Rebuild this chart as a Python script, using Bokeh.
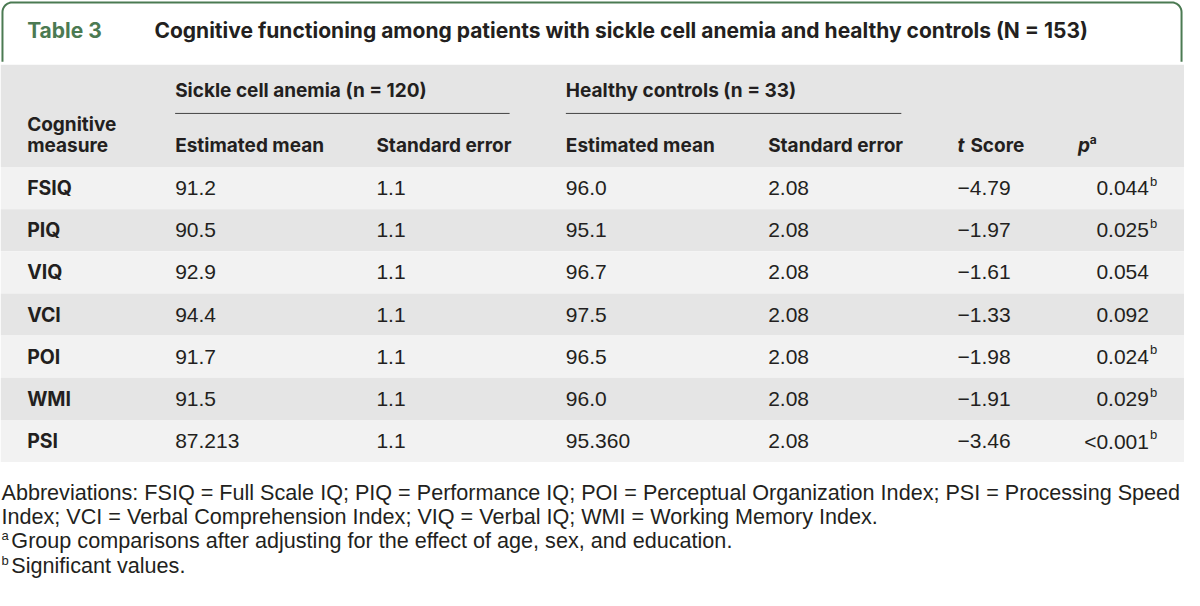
from bokeh.plotting import figure
from bokeh.models import Range1d, ColumnDataSource
from bokeh.core.properties import value
from bokeh.embed import file_html
from bokeh.resources import INLINE
import numpy as np

# ---------------- data ----------------
table_label = "Table 3"
title = "Cognitive functioning among patients with sickle cell anemia and healthy controls (N = 153)"
group_labels = ["Sickle cell anemia (n = 120)", "Healthy controls (n = 33)"]
col_headers = ["Estimated mean", "Standard error", "Estimated mean", "Standard error"]
row_header = ["Cognitive", "measure"]
measures = ["FSIQ", "PIQ", "VIQ", "VCI", "POI", "WMI", "PSI"]
sca_mean = ["91.2", "90.5", "92.9", "94.4", "91.7", "91.5", "87.213"]
sca_se = ["1.1", "1.1", "1.1", "1.1", "1.1", "1.1", "1.1"]
hc_mean = ["96.0", "95.1", "96.7", "97.5", "96.5", "96.0", "95.360"]
hc_se = ["2.08", "2.08", "2.08", "2.08", "2.08", "2.08", "2.08"]
t_score = ["\u22124.79", "\u22121.97", "\u22121.61", "\u22121.33", "\u22121.98", "\u22121.91", "\u22123.46"]
p_value = ["0.044", "0.025", "0.054", "0.092", "0.024", "0.029", "<0.001"]
p_sup = ["b", "b", "", "", "b", "b", "b"]
footnote_lines = [
    "Abbreviations: FSIQ = Full Scale IQ; PIQ = Performance IQ; POI = Perceptual Organization Index; PSI = Processing Speed",
    "Index; VCI = Verbal Comprehension Index; VIQ = Verbal IQ; WMI = Working Memory Index.",
]
footnote_marks = ["a", "b"]
footnote_notes = [
    "Group comparisons after adjusting for the effect of age, sex, and education.",
    "Significant values.",
]

# ---------------- style ----------------
GREEN = "#4b7a52"
INK = "#231f20"
HEAD_BG = "#e5e5e5"
ROW_BG = ["#f2f2f2", "#e5e5e5"]
BOLD_FONT = "Inter"
REG_FONT = "Liberation Sans"
HEAD_SIZE = "19px"
DATA_SIZE = "21px"

p = figure(width=1184, height=590, x_range=Range1d(0, 1200), y_range=Range1d(606, 0),
           output_backend="svg", toolbar_location=None, min_border=0)
p.axis.visible = False
p.grid.visible = False
p.outline_line_color = None
p.background_fill_color = "white"
p.border_fill_color = "white"

# title box border
r = 10
th = np.linspace(np.pi, 1.5 * np.pi, 12)
left_arc_x = 2 + r + r * np.cos(th)
left_arc_y = 2 + r + r * np.sin(th)
th2 = np.linspace(1.5 * np.pi, 2 * np.pi, 12)
right_arc_x = 1197 - r + r * np.cos(th2)
right_arc_y = 2 + r + r * np.sin(th2)
bx = np.concatenate([[2], left_arc_x, right_arc_x, [1197]])
by = np.concatenate([[63], left_arc_y, right_arc_y, [63]])
p.line(bx, by, line_color=GREEN, line_width=2)

p.text(x=[27], y=[31], text=[table_label], text_font=value(BOLD_FONT), text_font_style="bold",
       text_font_size="21px", text_color=GREEN, text_baseline="middle")
p.text(x=[156], y=[31], text=[title], text_font=value(BOLD_FONT), text_font_style="bold",
       text_font_size="21px", text_color=INK, text_baseline="middle")

# header band
p.quad(left=[0], right=[1200], top=[66], bottom=[171], fill_color=HEAD_BG, line_color=None)

# rows
n = len(measures)
row_h = 43.3
idx = np.arange(n)
tops = 171 + idx * row_h
src = ColumnDataSource(dict(
    top=tops, bottom=tops + row_h, yc=tops + row_h / 2,
    color=[ROW_BG[i % 2] for i in idx],
    measure=measures, sca_mean=sca_mean, sca_se=sca_se, hc_mean=hc_mean, hc_se=hc_se,
    t=t_score, pv=p_value, ps=p_sup,
))
p.quad(left=0, right=1200, top="top", bottom="bottom", fill_color="color", line_color=None, source=src)

# group headings + rules
gx = [177, 573]
p.text(x=gx, y=[92, 92], text=group_labels, text_font=value(BOLD_FONT), text_font_style="bold",
       text_font_size=HEAD_SIZE, text_color=INK, text_baseline="middle")
p.segment(x0=[177, 573], y0=[116, 116], x1=[516, 913], y1=[116, 116], line_color="#444444", line_width=1)

p.text(x=[27, 27], y=[127, 149], text=row_header, text_font=value(BOLD_FONT), text_font_style="bold",
       text_font_size=HEAD_SIZE, text_color=INK, text_baseline="middle")
cx = [177, 381, 573, 778]
p.text(x=cx, y=[149] * 4, text=col_headers, text_font=value(BOLD_FONT), text_font_style="bold",
       text_font_size=HEAD_SIZE, text_color=INK, text_baseline="middle")
p.text(x=[970], y=[149], text=["t"], text_font=value(BOLD_FONT), text_font_style="bold italic",
       text_font_size=HEAD_SIZE, text_color=INK, text_baseline="middle")
p.text(x=[983], y=[149], text=["Score"], text_font=value(BOLD_FONT), text_font_style="bold",
       text_font_size=HEAD_SIZE, text_color=INK, text_baseline="middle")
p.text(x=[1092], y=[149], text=["p"], text_font=value(BOLD_FONT), text_font_style="bold italic",
       text_font_size=HEAD_SIZE, text_color=INK, text_baseline="middle")
p.text(x=[1104], y=[143], text=["a"], text_font=value(BOLD_FONT), text_font_style="bold",
       text_font_size="12px", text_color=INK, text_baseline="middle")

# body cells
p.text(x=27, y="yc", text="measure", source=src, text_font=value(BOLD_FONT), text_font_style="bold",
       text_font_size="19.5px", text_color=INK, text_baseline="middle")
for col, xx in zip(["sca_mean", "sca_se", "hc_mean", "hc_se", "t"], [177, 381, 573, 778, 970]):
    p.text(x=xx, y="yc", text=col, source=src, text_font=value(REG_FONT),
           text_font_size=DATA_SIZE, text_color=INK, text_baseline="middle")
p.text(x=1164, y="yc", text="pv", source=src, text_font=value(REG_FONT), text_align="right",
       text_font_size=DATA_SIZE, text_color=INK, text_baseline="middle")
p.text(x=1165, y=src.data["yc"] - 7, text=p_sup, text_font=value(REG_FONT),
       text_font_size="13px", text_color=INK, text_baseline="middle")

# footnotes
p.text(x=[1, 1], y=[505, 530], text=footnote_lines, text_font=value(REG_FONT),
       text_font_size="21.6px", text_color=INK, text_baseline="middle")
p.text(x=[1, 1], y=[550, 575], text=footnote_marks, text_font=value(REG_FONT),
       text_font_size="13px", text_color=INK, text_baseline="middle")
p.text(x=[11, 11], y=[555, 580], text=footnote_notes, text_font=value(REG_FONT),
       text_font_size="21.6px", text_color=INK, text_baseline="middle")

open("out.html", "w").write(file_html(p, INLINE))
